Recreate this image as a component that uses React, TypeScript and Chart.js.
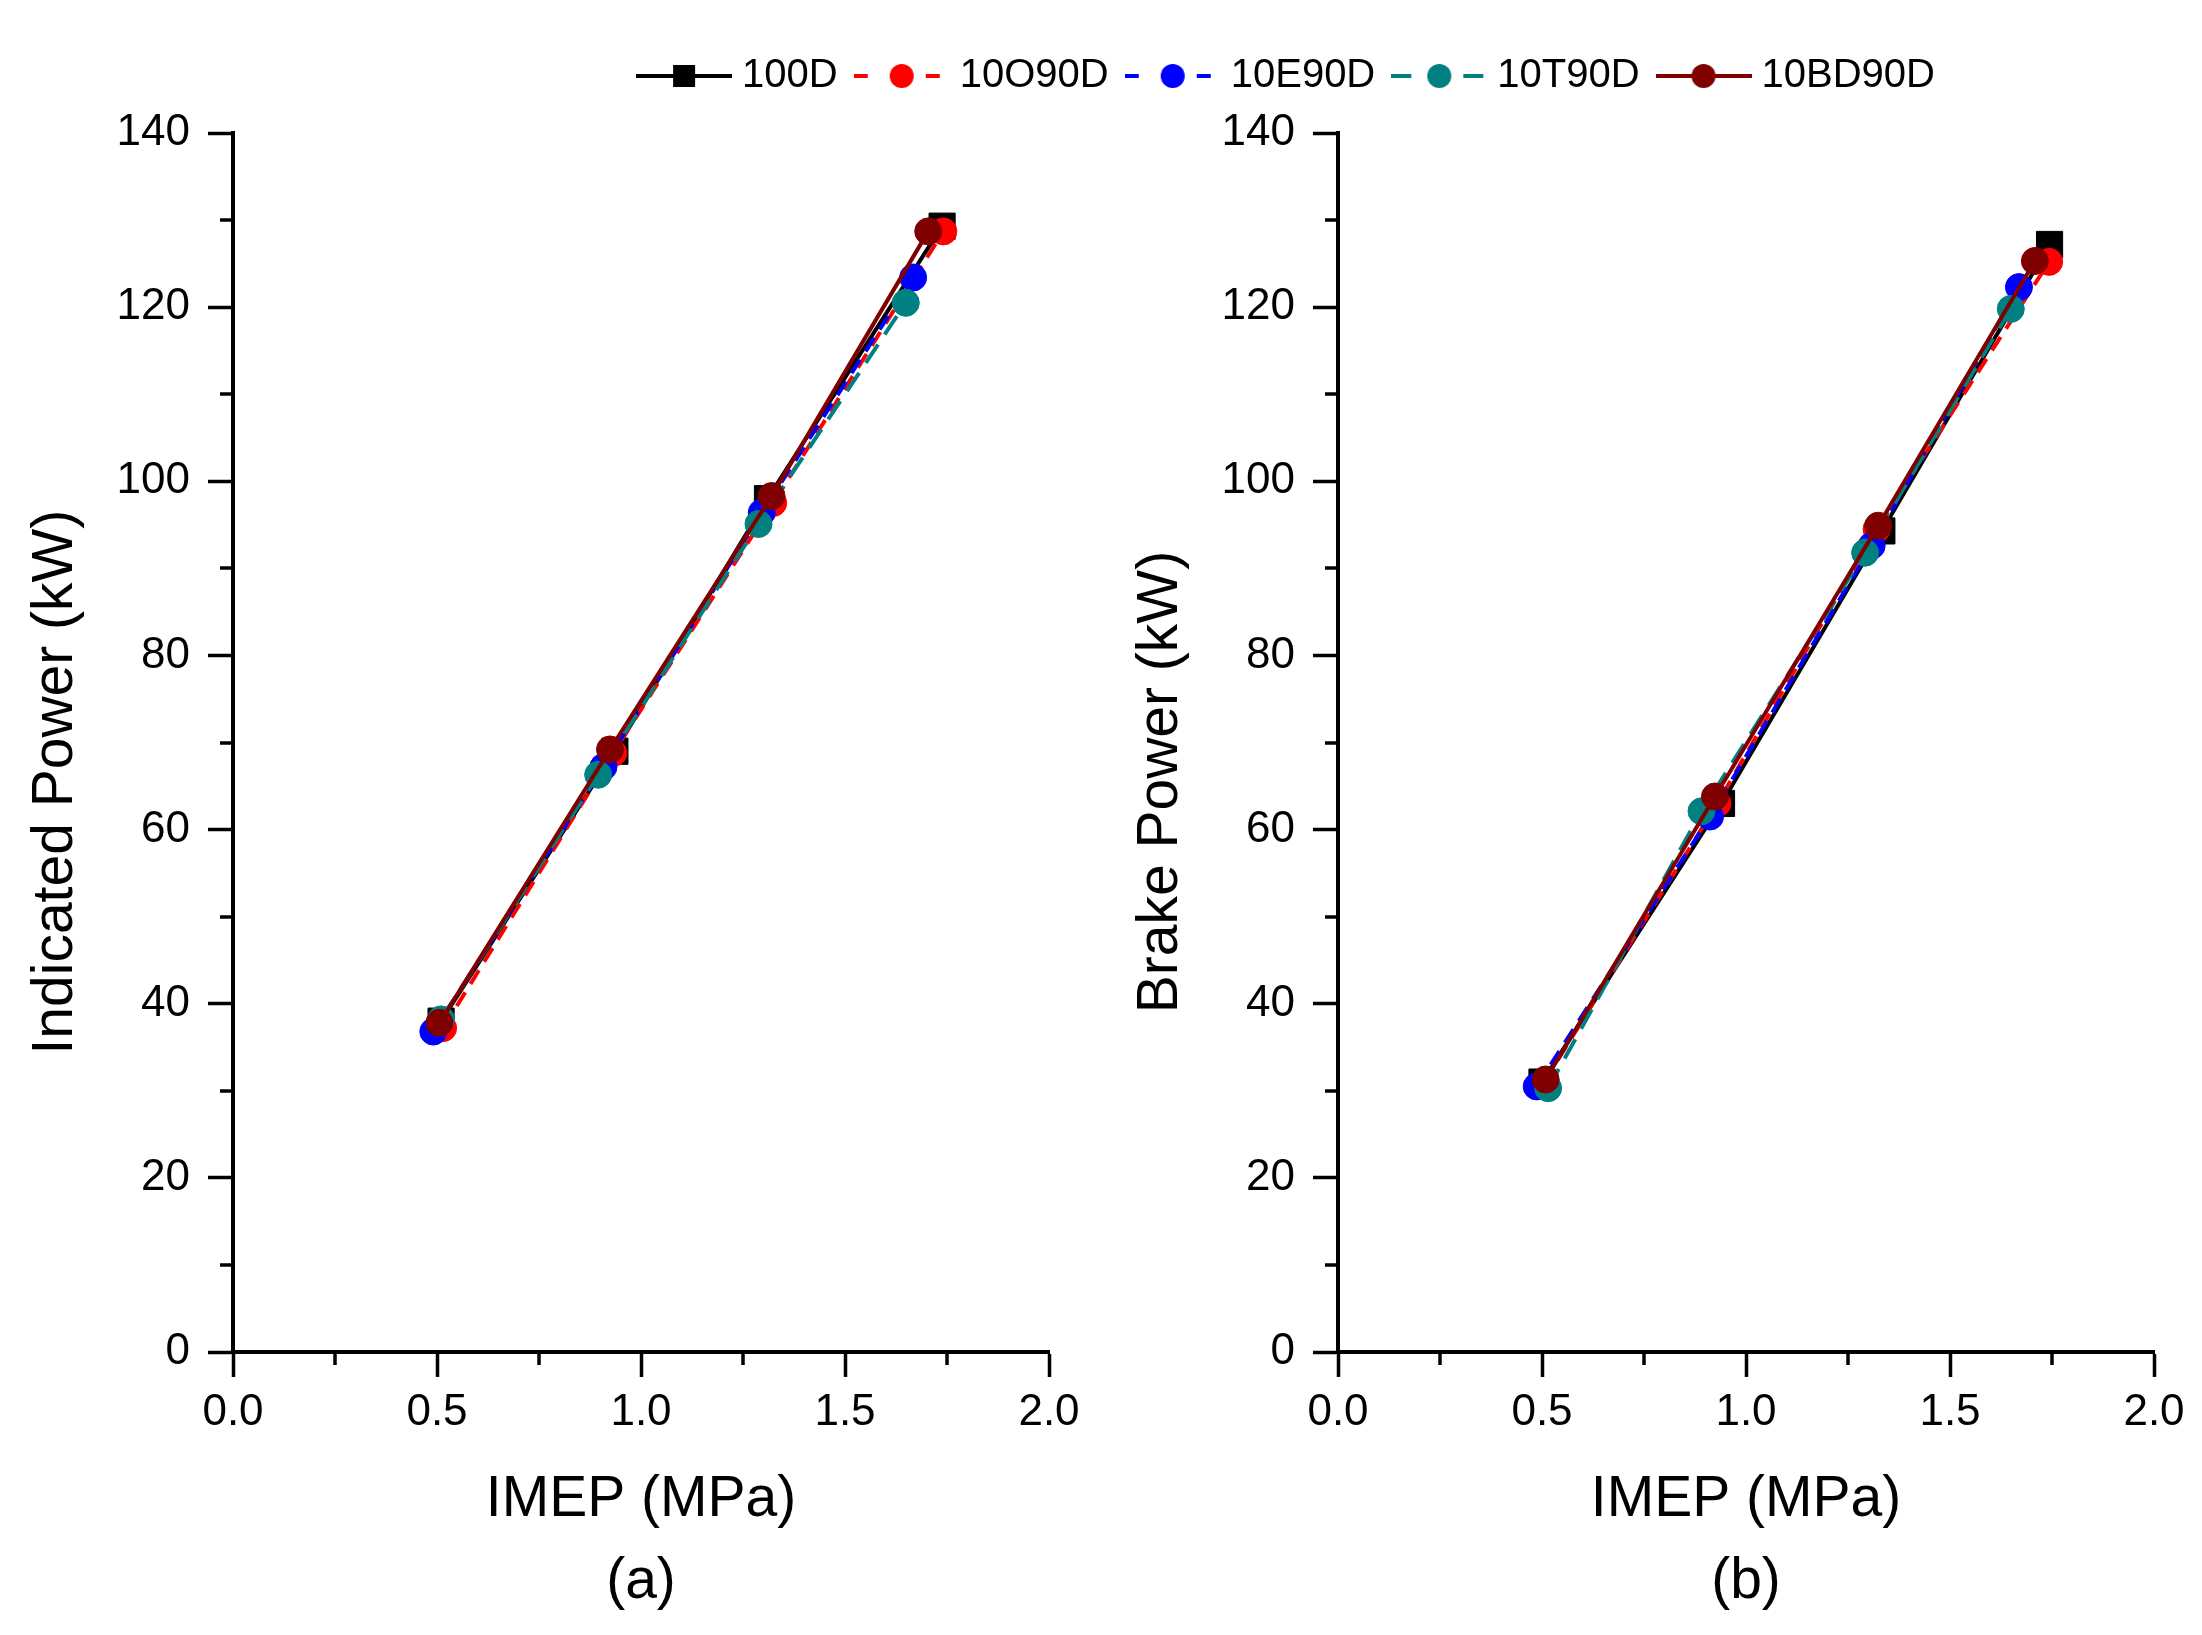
import React, { useEffect, useRef } from 'react';
import { Chart, registerables, ChartConfiguration } from 'chart.js';
Chart.register(...registerables);

const SERIES_NAMES = ['100D', '10O90D', '10E90D', '10T90D', '10BD90D'];
const SERIES_COLORS = ['#000000', '#ff0000', '#0000ff', '#008080', '#800000'];
const SERIES_DASHES = [[], [16, 10], [16, 10], [22, 12], []];

// (a) indicated power vs IMEP
const IND_IMEP_100D = [0.51, 0.936, 1.31, 1.738];
const IND_KW_100D = [38.0, 69.0, 98.0, 129.3];
const IND_IMEP_10O90D = [0.515, 0.932, 1.324, 1.741];
const IND_KW_10O90D = [37.2, 68.8, 97.5, 128.7];
const IND_IMEP_10E90D = [0.491, 0.908, 1.296, 1.667];
const IND_KW_10E90D = [36.8, 67.2, 96.4, 123.4];
const IND_IMEP_10T90D = [0.51, 0.895, 1.288, 1.649];
const IND_KW_10T90D = [38.2, 66.3, 95.1, 120.5];
const IND_IMEP_10BD90D = [0.506, 0.924, 1.32, 1.704];
const IND_KW_10BD90D = [37.8, 69.2, 98.3, 128.7];

// (b) brake power vs IMEP
const BRK_IMEP_100D = [0.5, 0.94, 1.333, 1.744];
const BRK_KW_100D = [31.0, 63.0, 94.3, 127.2];
const BRK_IMEP_10O90D = [0.505, 0.93, 1.32, 1.743];
const BRK_KW_10O90D = [31.0, 63.0, 94.5, 125.2];
const BRK_IMEP_10E90D = [0.487, 0.912, 1.308, 1.669];
const BRK_KW_10E90D = [30.5, 61.5, 92.6, 122.3];
const BRK_IMEP_10T90D = [0.515, 0.891, 1.292, 1.649];
const BRK_KW_10T90D = [30.3, 62.1, 91.8, 119.8];
const BRK_IMEP_10BD90D = [0.509, 0.924, 1.324, 1.708];
const BRK_KW_10BD90D = [31.3, 63.8, 94.9, 125.3];

const X_MINOR_TICKS = [0.25, 0.75, 1.25, 1.75];
const Y_MINOR_TICKS = [10, 30, 50, 70, 90, 110, 130];

const FONT = "'Liberation Sans', Arial, sans-serif";
const NBSP = '\u00a0\u00a0\u00a0\u00a0\u00a0'; // pushes the rotated title down a bit, like the original

const minorTicks = {
  id: 'minorTicks',
  afterDraw(chart: Chart) {
    const ctx = chart.ctx;
    const xs = chart.scales.x;
    const ys = chart.scales.y;
    ctx.save();
    ctx.strokeStyle = '#000';
    ctx.lineWidth = 3.5;
    ctx.beginPath();
    X_MINOR_TICKS.forEach(v => {
      const px = Math.round(xs.getPixelForValue(v));
      ctx.moveTo(px, xs.top);
      ctx.lineTo(px, xs.top + 13);
    });
    Y_MINOR_TICKS.forEach(v => {
      const py = Math.round(ys.getPixelForValue(v));
      ctx.moveTo(ys.right, py);
      ctx.lineTo(ys.right - 13, py);
    });
    ctx.stroke();
    ctx.restore();
  },
};

function makeLegendIcon(i: number): HTMLCanvasElement {
  const c = document.createElement('canvas');
  c.width = 96;
  c.height = 30;
  const g = c.getContext('2d')!;
  g.strokeStyle = SERIES_COLORS[i];
  g.fillStyle = SERIES_COLORS[i];
  g.lineWidth = 4;
  if (i === 1 || i === 2) g.setLineDash([14, 22]);
  if (i === 3) g.setLineDash([20, 16]);
  g.beginPath();
  g.moveTo(0, 15);
  g.lineTo(96, 15);
  g.stroke();
  g.setLineDash([]);
  if (i === 0) {
    g.fillRect(48 - 11, 15 - 11, 22, 22);
  } else {
    g.beginPath();
    g.arc(48, 15, 12, 0, Math.PI * 2);
    g.fill();
  }
  return c;
}

function buildDatasets(xs: number[][], ys: number[][]) {
  return SERIES_NAMES.map((name, i) => ({
    label: name,
    data: xs[i].map((x, k) => ({ x, y: ys[i][k] })),
    borderColor: SERIES_COLORS[i],
    backgroundColor: SERIES_COLORS[i],
    borderWidth: 4,
    borderDash: SERIES_DASHES[i],
    pointStyle: i === 0 ? 'rect' : 'circle',
    pointRadius: i === 0 ? 18.5 : 13.5,
    pointBorderWidth: 1,
    pointBorderColor: SERIES_COLORS[i],
    pointBackgroundColor: SERIES_COLORS[i],
    tension: 0,
    xAxisID: 'x',
    yAxisID: 'y',
    order: SERIES_NAMES.length - 1 - i,
  }));
}

function axisBase() {
  return {
    grid: { display: true, drawOnChartArea: false, drawTicks: true, tickLength: 25, tickWidth: 3.5, tickColor: '#000' },
    border: { display: true, color: '#000', width: 4 },
  };
}

function buildConfig(opts: {
  xs: number[][];
  ys: number[][];
  yTitle: string;
  panel: string;
  legend: boolean;
  topPad: number;
  spacerTop: number;
  rightPad: number;
  spacerRight: number;
}): ChartConfiguration {
  const icons = SERIES_NAMES.map((_, i) => makeLegendIcon(i));
  const scales: any = {
    x: {
      type: 'linear',
      position: 'bottom',
      min: 0,
      max: 2,
      ...axisBase(),
      ticks: {
        stepSize: 0.5,
        autoSkip: false,
        maxRotation: 0,
        padding: 9,
        color: '#000',
        font: { family: FONT, size: 44 },
        callback: (v: any) => Number(v).toFixed(1),
      },
      title: {
        display: true,
        text: ['IMEP (MPa)', opts.panel],
        color: '#000',
        font: { family: FONT, size: 57, lineHeight: 1.44 },
        padding: { top: 0, bottom: 12 },
      },
      afterFit: (s: any) => { s.height = 283; },
    },
    y: {
      type: 'linear',
      position: 'left',
      min: 0,
      max: 140,
      ...axisBase(),
      ticks: {
        stepSize: 20,
        padding: 18,
        color: '#000',
        font: { family: FONT, size: 44 },
      },
      title: {
        display: true,
        text: opts.yTitle + NBSP,
        color: '#000',
        font: { family: FONT, size: 57 },
        padding: { top: 22, bottom: 0 },
      },
      afterFit: (s: any) => { s.width = 233; },
    },
    spacerTop: {
      type: 'linear',
      position: 'top',
      min: 0,
      max: 1,
      ticks: { display: false },
      grid: { display: false },
      border: { display: false },
      afterFit: (s: any) => { s.height = opts.spacerTop; },
    },
  };
  if (opts.spacerRight > 0) {
    scales.spacerRight = {
      type: 'linear',
      position: 'right',
      min: 0,
      max: 1,
      ticks: { display: false },
      grid: { display: false },
      border: { display: false },
      afterFit: (s: any) => { s.width = opts.spacerRight; },
    };
  }
  return {
    type: 'line',
    data: { datasets: buildDatasets(opts.xs, opts.ys) as any },
    options: {
      responsive: false,
      animation: false,
      events: [],
      layout: { padding: { top: opts.topPad, left: 0, right: opts.rightPad, bottom: 0 } },
      scales,
      plugins: {
        tooltip: { enabled: false },
        legend: {
          display: opts.legend,
          position: 'top',
          align: 'end',
          labels: {
            usePointStyle: true,
            pointStyleWidth: 76,
            padding: 26,
            color: '#000',
            font: { family: FONT, size: 40 },
            generateLabels: () =>
              SERIES_NAMES.map((name, i) => ({
                text: name,
                pointStyle: icons[i] as any,
                fillStyle: SERIES_COLORS[i],
                strokeStyle: SERIES_COLORS[i],
                lineWidth: 0,
                hidden: false,
                datasetIndex: i,
                fontColor: '#000',
              })),
          },
        },
      },
    },
    plugins: [minorTicks],
  };
}

const App: React.FC = () => {
  const leftRef = useRef<HTMLCanvasElement>(null);
  const rightRef = useRef<HTMLCanvasElement>(null);

  useEffect(() => {
    if (!leftRef.current || !rightRef.current) return;
    const left = new Chart(leftRef.current, buildConfig({
      xs: [IND_IMEP_100D, IND_IMEP_10O90D, IND_IMEP_10E90D, IND_IMEP_10T90D, IND_IMEP_10BD90D],
      ys: [IND_KW_100D, IND_KW_10O90D, IND_KW_10E90D, IND_KW_10T90D, IND_KW_10BD90D],
      yTitle: 'Indicated Power (kW)',
      panel: '(a)',
      legend: true,
      topPad: 30,
      spacerTop: 27,
      rightPad: 0,
      spacerRight: 912,
    }));
    const right = new Chart(rightRef.current, buildConfig({
      xs: [BRK_IMEP_100D, BRK_IMEP_10O90D, BRK_IMEP_10E90D, BRK_IMEP_10T90D, BRK_IMEP_10BD90D],
      ys: [BRK_KW_100D, BRK_KW_10O90D, BRK_KW_10E90D, BRK_KW_10T90D, BRK_KW_10BD90D],
      yTitle: 'Brake Power (kW)',
      panel: '(b)',
      legend: false,
      topPad: 0,
      spacerTop: 133,
      rightPad: 48,
      spacerRight: 0,
    }));
    return () => {
      left.destroy();
      right.destroy();
    };
  }, []);

  return (
    <div style={{ position: 'absolute', left: 0, top: 0, width: 2202, height: 1635, overflow: 'hidden', background: '#fff' }}>
      <canvas ref={leftRef} width={1961} height={1635} style={{ position: 'absolute', left: 0, top: 0 }} />
      <canvas ref={rightRef} width={1097} height={1635} style={{ position: 'absolute', left: 1105, top: 0 }} />
    </div>
  );
};

export default App;
